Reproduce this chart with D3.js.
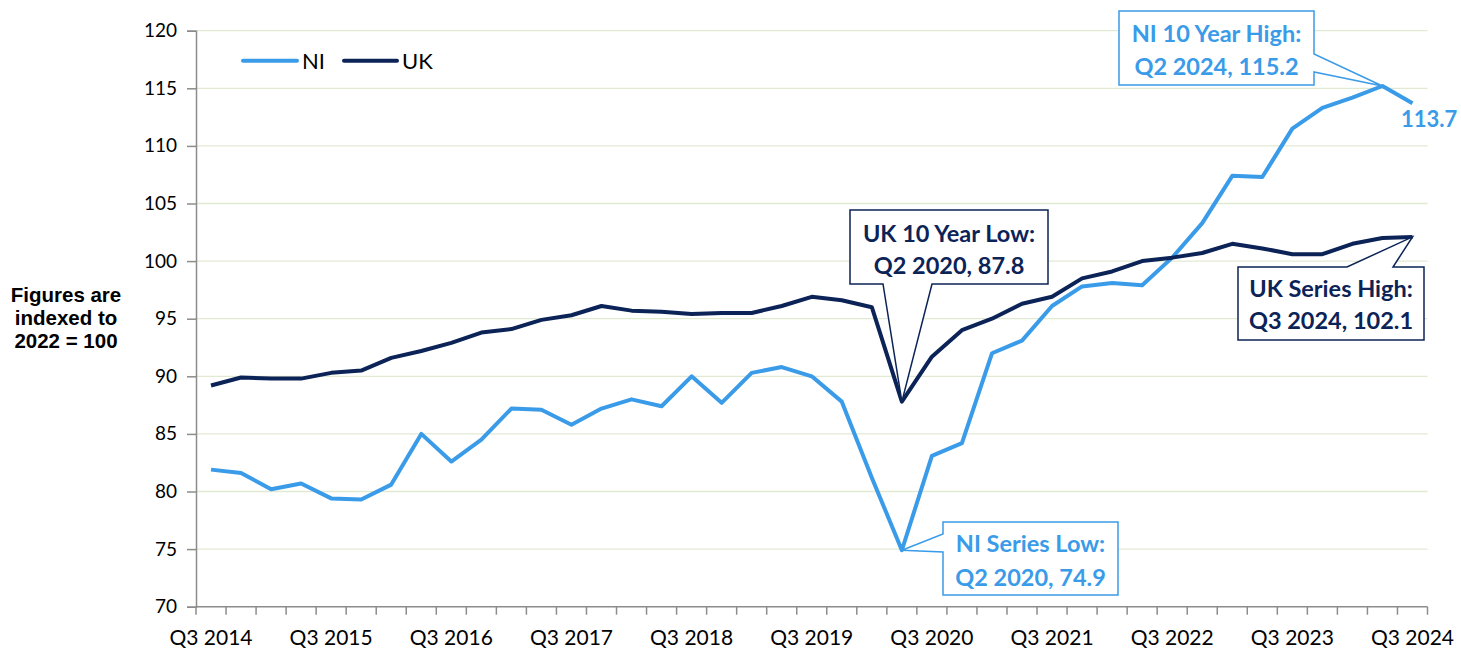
<!DOCTYPE html>
<html><head><meta charset="utf-8">
<script src="https://cdn.jsdelivr.net/npm/d3@7"></script>
<style>
html,body{margin:0;padding:0;background:#fff;}
svg{display:block;}
</style>
</head><body>
<svg id="chart" width="1461" height="648"></svg>
<script>
const categories = ["Q3 2014","Q4 2014","Q1 2015","Q2 2015","Q3 2015","Q4 2015","Q1 2016","Q2 2016",
"Q3 2016","Q4 2016","Q1 2017","Q2 2017","Q3 2017","Q4 2017","Q1 2018","Q2 2018",
"Q3 2018","Q4 2018","Q1 2019","Q2 2019","Q3 2019","Q4 2019","Q1 2020","Q2 2020",
"Q3 2020","Q4 2020","Q1 2021","Q2 2021","Q3 2021","Q4 2021","Q1 2022","Q2 2022",
"Q3 2022","Q4 2022","Q1 2023","Q2 2023","Q3 2023","Q4 2023","Q1 2024","Q2 2024","Q3 2024"];
const niValues = [81.9,81.6,80.2,80.7,79.4,79.3,80.6,85.0,82.6,84.5,87.2,87.1,85.8,87.2,88.0,87.4,
90.0,87.7,90.3,90.8,90.0,87.8,81.2,74.9,83.1,84.2,92.0,93.1,96.1,97.8,98.1,97.9,
100.3,103.3,107.4,107.3,111.5,113.3,114.2,115.2,113.7];
const ukValues = [89.2,89.9,89.8,89.8,90.3,90.5,91.6,92.2,92.9,93.8,94.1,94.9,95.3,96.1,95.7,95.6,
95.4,95.5,95.5,96.1,96.9,96.6,96.0,87.8,91.7,94.0,95.0,96.3,96.9,98.5,99.1,100.0,
100.3,100.7,101.5,101.1,100.6,100.6,101.5,102.0,102.1];
const tickLabels = ["Q3 2014","Q3 2015","Q3 2016","Q3 2017","Q3 2018","Q3 2019","Q3 2020","Q3 2021","Q3 2022","Q3 2023","Q3 2024"];
const yTicks = [70,75,80,85,90,95,100,105,110,115,120];
const seriesNames = ["NI","UK"];
const annotationLines = [
  ["NI 10 Year High:","Q2 2024, 115.2"],
  ["UK 10 Year Low:","Q2 2020, 87.8"],
  ["NI Series Low:","Q2 2020, 74.9"],
  ["UK Series High:","Q3 2024, 102.1"]
];
const lastLabel = "113.7";

const NI_COL = "#3a9be8", UK_COL = "#0c2357", AXIS = "#8c8c8c", GRID = "#e2e9d3";
const FONT = "Lato, 'Open Sans', sans-serif";

const svg = d3.select("#chart");
const L = 196, R = 1427.5, T = 30.7, B = 606.7;

const x = d3.scaleBand().domain(categories).range([L, R]).paddingInner(0).paddingOuter(0);
const y = d3.scaleLinear().domain([70,120]).range([B, T]);
const cx = c => x(c) + x.bandwidth()/2;

// gridlines
svg.append("g").selectAll("line").data(yTicks.filter(v=>v>70)).join("line")
  .attr("x1", L).attr("x2", R).attr("y1", d=>y(d)).attr("y2", d=>y(d))
  .attr("stroke", GRID).attr("stroke-width", 1.3);

// y axis
const yAxis = svg.append("g").attr("transform", `translate(${L},0)`)
  .call(d3.axisLeft(y).tickValues(yTicks).tickSize(9).tickPadding(10));
yAxis.select(".domain").attr("stroke", AXIS).attr("stroke-width", 1.5);
yAxis.selectAll(".tick line").attr("stroke", AXIS).attr("stroke-width", 1.5);
yAxis.selectAll(".tick text").attr("font-family", FONT).attr("font-size", 19).attr("fill", "#000");

// x axis: ticks at category boundaries
const xg = svg.append("g");
xg.append("line").attr("x1", L).attr("x2", R).attr("y1", B).attr("y2", B).attr("stroke", AXIS).attr("stroke-width", 1.5);
const bounds = categories.map(c => x(c)).concat([R]);
xg.selectAll("line.tk").data(bounds).join("line").attr("class","tk")
  .attr("x1", d=>d).attr("x2", d=>d).attr("y1", B).attr("y2", B+8)
  .attr("stroke", AXIS).attr("stroke-width", 1.5);
xg.selectAll("text").data(tickLabels).join("text")
  .attr("x", d=>cx(d)).attr("y", 645).attr("text-anchor","middle")
  .attr("font-family", FONT).attr("font-size", 21).attr("fill","#000").text(d=>d);

// y title
const yt = svg.append("text").attr("text-anchor","middle")
  .attr("font-family","'Liberation Sans', Arial, sans-serif").attr("font-weight","bold")
  .attr("font-size", 20.5).attr("fill","#000");
["Figures are","indexed to","2022 = 100"].forEach((t,i)=>{
  yt.append("tspan").attr("x", 66).attr("y", 302 + i*23).text(t);
});

// lines
const line = d3.line().x((d,i)=>cx(categories[i])).y(d=>y(d));
svg.append("path").datum(niValues).attr("d", line).attr("fill","none")
  .attr("stroke", NI_COL).attr("stroke-width", 4).attr("stroke-linejoin","round");
svg.append("path").datum(ukValues).attr("d", line).attr("fill","none")
  .attr("stroke", UK_COL).attr("stroke-width", 4).attr("stroke-linejoin","round");

// legend
const leg = svg.append("g");
[[243,297,302,NI_COL,seriesNames[0]],[344,397,402,UK_COL,seriesNames[1]]].forEach(([a,b,t,c,n])=>{
  leg.append("line").attr("x1",a).attr("x2",b).attr("y1",60.7).attr("y2",60.7)
    .attr("stroke",c).attr("stroke-width",4).attr("stroke-linecap","round");
  leg.append("text").attr("x",t).attr("y",68.5).attr("font-family",FONT).attr("font-size",22)
    .attr("fill","#000").text(n);
});

// callouts
function callout(pts, box, color, lines, lineY) {
  svg.append("path").attr("d", "M" + pts.map(p=>p.join(",")).join("L") + "Z")
    .attr("fill","#fff").attr("stroke", color).attr("stroke-width", 1.5).attr("stroke-linejoin","miter");
  const mid = (box[0]+box[2])/2;
  lines.forEach((t,i)=>{
    svg.append("text").attr("x", mid).attr("y", lineY[i]).attr("text-anchor","middle")
      .attr("font-family", FONT).attr("font-weight","bold").attr("font-size", 23.5)
      .attr("fill", color).text(t);
  });
}
// NI 10 year high
{
  const px = cx(categories[39]), py = y(niValues[39]);
  const b = [1119,11,1314,85];
  callout([[b[0],b[1]],[b[2],b[1]],[b[2],54],[px,py],[b[2],72],[b[2],b[3]],[b[0],b[3]]], b, NI_COL, annotationLines[0], [41.5,74.5]);
}
// UK 10 year low
{
  const px = cx(categories[23]), py = y(ukValues[23]);
  const b = [850,210,1048,284];
  callout([[b[0],b[1]],[b[2],b[1]],[b[2],b[3]],[932,b[3]],[px,py],[883,b[3]],[b[0],b[3]]], b, UK_COL, annotationLines[1], [241.5,273.5]);
}
// NI series low
{
  const px = cx(categories[23]), py = y(niValues[23]);
  const b = [943,522,1118,595];
  callout([[b[0],b[1]],[b[2],b[1]],[b[2],b[3]],[b[0],b[3]],[b[0],552],[px,py],[b[0],534]], b, NI_COL, annotationLines[2], [551.5,585.5]);
}
// UK series high
{
  const px = cx(categories[40]), py = y(ukValues[40]);
  const b = [1238,267,1424,340];
  callout([[b[0],b[1]],[1347,b[1]],[px,py],[1393,b[1]],[b[2],b[1]],[b[2],b[3]],[b[0],b[3]]], b, UK_COL, annotationLines[3], [296.5,328.5]);
}
// last NI value label
svg.append("text").attr("x", 1401).attr("y", 126.5).attr("font-family", FONT).attr("font-weight","bold")
  .attr("font-size", 22).attr("fill", NI_COL).text(lastLabel);
</script>
</body></html>
